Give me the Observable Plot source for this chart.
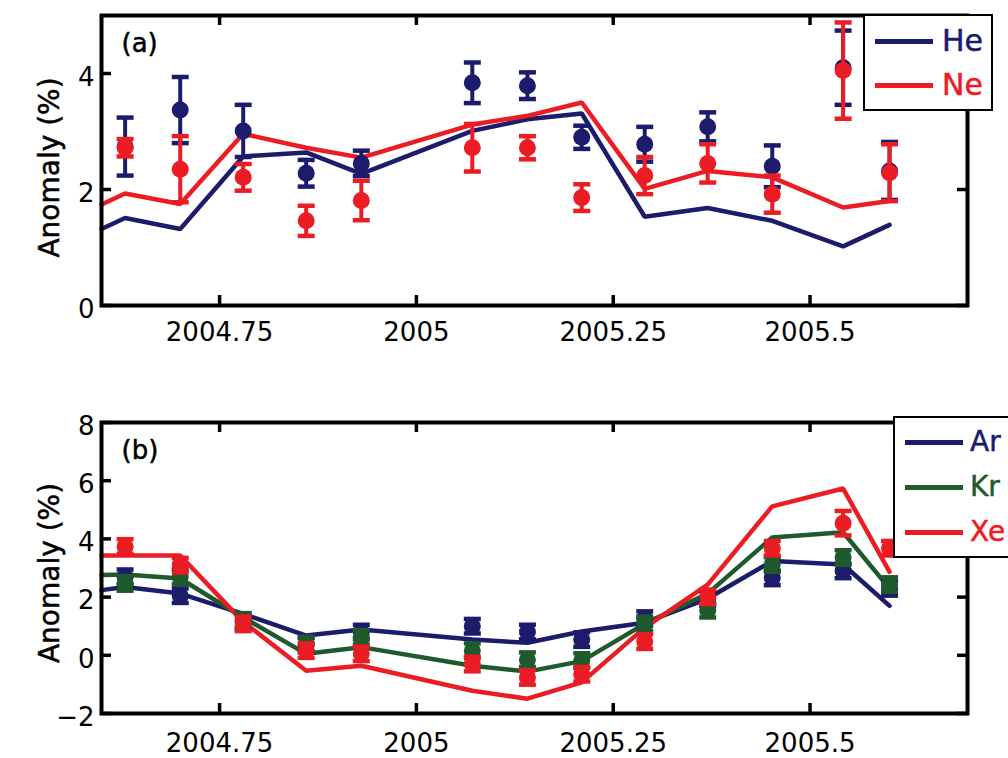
<!DOCTYPE html>
<html>
<head>
<meta charset="utf-8">
<script src="https://cdn.jsdelivr.net/npm/d3@7"></script>
<script src="https://cdn.jsdelivr.net/npm/@observablehq/plot@0.6"></script>
<style>
  body { margin: 0; background: #fff; }
  #wrap { position: relative; width: 1008px; height: 758px; overflow: hidden; background: #fff; font-family: "DejaVu Sans", sans-serif; }
  .panel { position: absolute; left: 0; }
  .legend { position: absolute; background: #fff; border: 2px solid #000; box-sizing: border-box; }
  .legline { position: absolute; height: 5px; }
  .legtext { position: absolute; line-height: 1; white-space: nowrap; -webkit-text-stroke: 0.5px currentColor; }
</style>
</head>
<body>
<div id="wrap"></div>
<script>
// ---------------- data ----------------
const dates = [2004.630, 2004.700, 2004.780, 2004.860, 2004.930, 2005.071, 2005.141, 2005.210, 2005.290, 2005.370, 2005.452, 2005.542, 2005.601];
const lineDates = [2004.600, 2004.630, 2004.700, 2004.780, 2004.860, 2004.930, 2005.071, 2005.141, 2005.210, 2005.290, 2005.370, 2005.452, 2005.542, 2005.601];

// panel (a)
const heModel = [1.32, 1.51, 1.32, 2.57, 2.64, 2.27, 3.01, 3.21, 3.31, 1.53, 1.68, 1.46, 1.02, 1.39];
const neModel = [1.74, 1.93, 1.75, 2.96, 2.72, 2.55, 3.12, 3.27, 3.50, 2.01, 2.32, 2.21, 1.69, 1.80];
const heObs = [2.74, 3.37, 3.01, 2.28, 2.45, 3.84, 3.79, 2.90, 2.78, 3.08, 2.40, 4.10, 2.32];
const heErr = [0.50, 0.57, 0.45, 0.23, 0.22, 0.35, 0.23, 0.20, 0.30, 0.25, 0.36, 0.64, 0.50];
const neObs = [2.72, 2.35, 2.21, 1.46, 1.81, 2.72, 2.72, 1.86, 2.24, 2.45, 1.92, 4.05, 2.29];
const neErr = [0.15, 0.57, 0.23, 0.26, 0.34, 0.41, 0.20, 0.23, 0.32, 0.33, 0.32, 0.83, 0.49];

// panel (b)
const arModel = [2.24, 2.35, 2.12, 1.42, 0.68, 0.89, 0.54, 0.43, 0.82, 1.12, 1.95, 3.24, 3.12, 1.70];
const krModel = [2.76, 2.78, 2.64, 1.30, 0.05, 0.28, -0.36, -0.56, -0.20, 1.08, 2.12, 4.05, 4.23, 2.29];
const xeModel = [3.43, 3.43, 3.43, 1.15, -0.53, -0.36, -1.22, -1.49, -0.93, 0.95, 2.43, 5.12, 5.73, 2.87];
const arObs = [2.70, 2.05, 1.14, 0.35, 0.80, 1.00, 0.80, 0.54, 1.26, 1.95, 2.66, 2.90, 2.30];
const arErr = [0.25, 0.25, 0.25, 0.25, 0.25, 0.25, 0.25, 0.25, 0.25, 0.25, 0.25, 0.25, 0.25];
const krObs = [2.47, 2.70, 1.20, 0.39, 0.62, 0.16, -0.15, -0.18, 1.08, 1.55, 3.12, 3.36, 2.43];
const krErr = [0.25, 0.25, 0.25, 0.25, 0.25, 0.25, 0.25, 0.25, 0.25, 0.25, 0.25, 0.25, 0.25];
const xeObs = [3.74, 3.10, 1.08, 0.16, 0.05, -0.30, -0.76, -0.65, 0.47, 2.01, 3.68, 4.54, 3.68];
const xeErr = [0.25, 0.25, 0.25, 0.25, 0.25, 0.25, 0.25, 0.25, 0.25, 0.25, 0.25, 0.42, 0.25];

// axes
const xDomain = [2004.6, 2005.7];
const xTicks = [2004.75, 2005, 2005.25, 2005.5];
const xTickLabels = ["2004.75", "2005", "2005.25", "2005.5"];
const yDomainA = [0, 5];
const yTicksA = [0, 2, 4];
const yTickLabelsA = ["0", "2", "4"];
const yDomainB = [-2, 8];
const yTicksB = [-2, 0, 2, 4, 6, 8];
const yTickLabelsB = ["\u22122", "0", "2", "4", "6", "8"];
const yLabel = "Anomaly (%)";
const panelLabels = ["(a)", "(b)"];
const seriesA = ["He", "Ne"];
const seriesB = ["Ar", "Kr", "Xe"];

// ---------------- styling ----------------
const NAVY = "#1d1b6b", RED = "#ec1c24", GREEN = "#1e5a2c";
const FONT = "DejaVu Sans, sans-serif";
const W = 1008, ML = 101, MR = 41;
const FW = W - ML - MR;
const TXT = {fill: "#000", stroke: "#000", strokeWidth: 0.5};

const capSymbol = {
  draw(ctx, size) { const w = Math.sqrt(size / Math.PI); ctx.moveTo(-w, 0); ctx.lineTo(w, 0); }
};

function seriesLine(model, color) {
  const rows = lineDates.map((d, i) => ({date: d, v: model[i]}));
  return Plot.line(rows, {x: "date", y: "v", stroke: color, strokeWidth: 4.5, strokeLinejoin: "miter"});
}
function seriesPoints(obs, err, color) {
  const rows = dates.map((d, i) => ({date: d, v: obs[i], lo: obs[i] - err[i], hi: obs[i] + err[i]}));
  return [
    Plot.ruleX(rows, {x: "date", y1: "lo", y2: "hi", stroke: color, strokeWidth: 4}),
    Plot.dot(rows, {x: "date", y: "lo", symbol: capSymbol, r: 8.5, fill: "none", stroke: color, strokeWidth: 4.5}),
    Plot.dot(rows, {x: "date", y: "hi", symbol: capSymbol, r: 8.5, fill: "none", stroke: color, strokeWidth: 4.5}),
    Plot.dot(rows, {x: "date", y: "v", r: 8.5, fill: color, stroke: "none"})
  ];
}

function panel({height, mt, mb, yDomain, yTicks, yTickLabels, label, lines, points, labelPad, ylabDy}) {
  const FH = height - mt - mb;
  const xMap = new Map(xTicks.map((t, i) => [t, xTickLabels[i]]));
  const yMap = new Map(yTicks.map((t, i) => [t, yTickLabels[i]]));
  return Plot.plot({
    width: W, height, marginLeft: ML, marginRight: MR, marginTop: mt, marginBottom: mb,
    style: {fontFamily: FONT, background: "transparent", overflow: "visible"},
    x: {domain: xDomain},
    y: {domain: yDomain},
    marks: [
      ...lines,
      ...points,
      // inward ticks
      Plot.tickX(xTicks, {x: d => d, insetTop: FH - 10, stroke: "#000", strokeWidth: 3.5}),
      Plot.tickX(xTicks, {x: d => d, insetBottom: FH - 10, stroke: "#000", strokeWidth: 3.5}),
      Plot.tickY(yTicks, {y: d => d, insetRight: FW - 10, stroke: "#000", strokeWidth: 3.5}),
      Plot.tickY(yTicks, {y: d => d, insetLeft: FW - 10, stroke: "#000", strokeWidth: 3.5}),
      Plot.frame({stroke: "#000", strokeWidth: 4}),
      Plot.axisX(xTicks, {tickSize: 0, tickPadding: labelPad, fontSize: 26, ...TXT, tickFormat: d => xMap.get(d), label: null}),
      Plot.axisY(yTicks, {tickSize: 0, tickPadding: 7, fontSize: 26, ...TXT, dy: 4, tickFormat: d => yMap.get(d), label: null}),
      Plot.text([yLabel], {frameAnchor: "left", textAnchor: "middle", dx: -51, dy: ylabDy, rotate: -90, fontSize: 28, ...TXT}),
      Plot.text([label], {frameAnchor: "top-left", dx: 20, dy: 18, fontSize: 26, textAnchor: "start", lineAnchor: "top", ...TXT})
    ]
  });
}

const wrap = document.getElementById("wrap");

const pa = panel({
  height: 380, mt: 15, mb: 75, yDomain: yDomainA, yTicks: yTicksA, yTickLabels: yTickLabelsA,
  label: panelLabels[0], labelPad: 17, ylabDy: 7,
  lines: [seriesLine(heModel, NAVY), seriesLine(neModel, RED)],
  points: [...seriesPoints(heObs, heErr, NAVY), ...seriesPoints(neObs, neErr, RED)]
});
pa.classList.add("panel"); pa.style.top = "0px";
wrap.appendChild(pa);

const pb = panel({
  height: 378, mt: 42, mb: 45, yDomain: yDomainB, yTicks: yTicksB, yTickLabels: yTickLabelsB,
  label: panelLabels[1], labelPad: 20, ylabDy: 5,
  lines: [seriesLine(arModel, NAVY), seriesLine(krModel, GREEN), seriesLine(xeModel, RED)],
  points: [...seriesPoints(arObs, arErr, NAVY), ...seriesPoints(krObs, krErr, GREEN), ...seriesPoints(xeObs, xeErr, RED)]
});
pb.classList.add("panel"); pb.style.top = "380px";
wrap.appendChild(pb);

// legends
function legend({left, top, width, height, names, colors, rowYs, fontSize, textLeft, lineW}) {
  const box = document.createElement("div");
  box.className = "legend";
  Object.assign(box.style, {left: left + "px", top: top + "px", width: width + "px", height: height + "px"});
  names.forEach((n, i) => {
    const ln = document.createElement("div");
    ln.className = "legline";
    Object.assign(ln.style, {left: "10px", top: (rowYs[i] - 2.5) + "px", width: lineW + "px", background: colors[i]});
    box.appendChild(ln);
    const tx = document.createElement("div");
    tx.className = "legtext";
    tx.textContent = n;
    Object.assign(tx.style, {left: textLeft + "px", top: (rowYs[i] - fontSize / 2) + "px", fontSize: fontSize + "px", color: colors[i]});
    box.appendChild(tx);
  });
  wrap.appendChild(box);
}
legend({left: 863, top: 14, width: 130, height: 97, names: seriesA, colors: [NAVY, RED], rowYs: [25, 69], fontSize: 30, textLeft: 77, lineW: 58});
legend({left: 893, top: 416, width: 140, height: 142, names: seriesB, colors: [NAVY, GREEN, RED], rowYs: [24, 69, 114], fontSize: 28, textLeft: 75, lineW: 58});
</script>
</body>
</html>
